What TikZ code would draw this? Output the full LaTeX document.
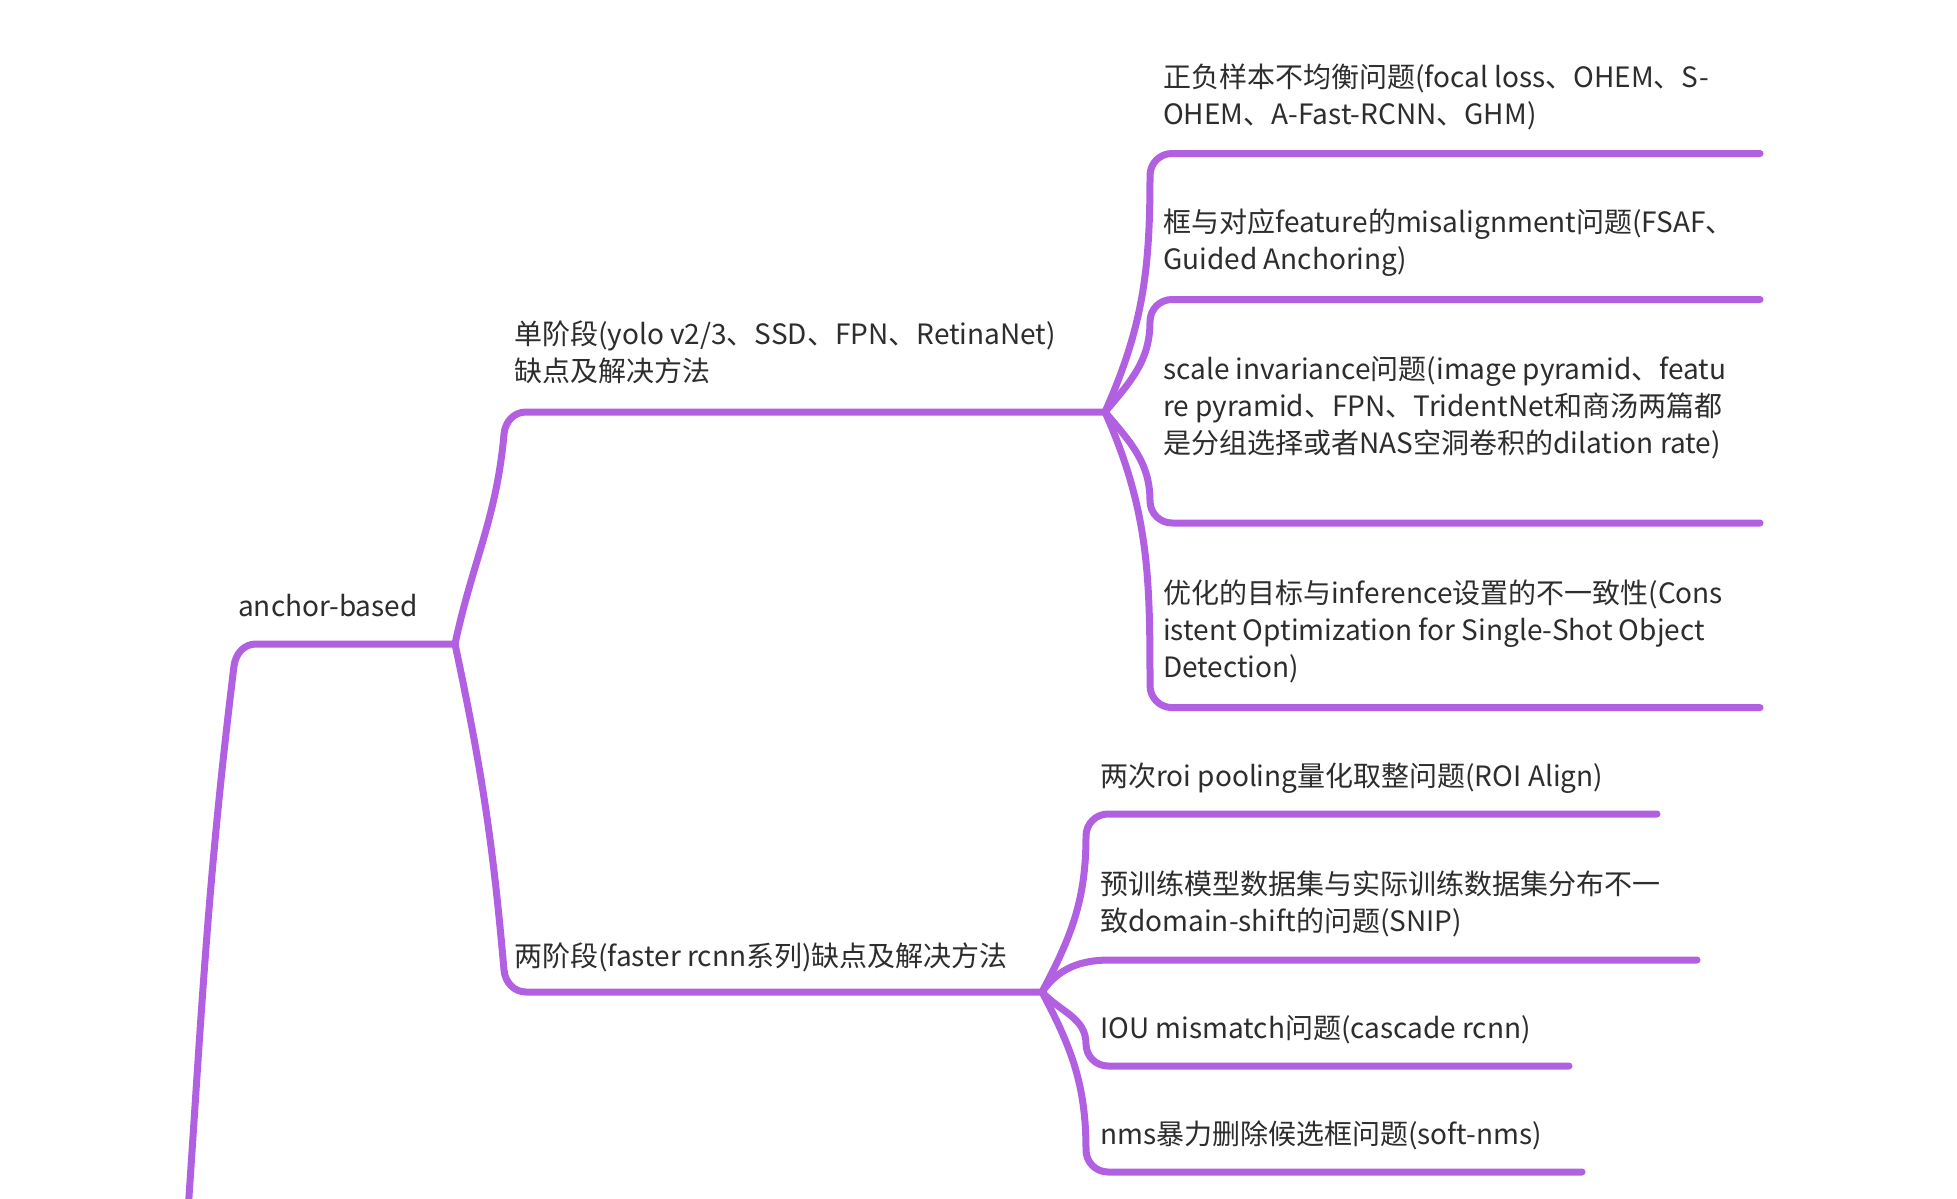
\documentclass[tikz,border=0pt]{standalone}
\usepackage{fontspec}
\setmainfont{Noto Sans CJK SC}
\usetikzlibrary{calc}
\definecolor{mmpurple}{RGB}{178,96,226}
\definecolor{mmtext}{RGB}{45,45,45}
% #1 from, #2 corner, #3 end, #4 V offset, #5 radius, #6 out, #7 in, #8 motion angle
\newcommand\mmbr[8]{\draw[br] (#1) to[out=#6,in=#7] ($(#2)+(0,#4)$) to[out=#8,in=180] ($(#2)+(#5,0)$) -- (#3);}
\begin{document}
\begin{tikzpicture}[x=1pt,y=1pt,
  br/.style={draw=mmpurple, line width=7pt, line cap=round, line join=round},
  lbl/.style={anchor=base west, inner sep=0pt, align=left, text=mmtext,
    font=\fontsize{28}{37.4}\selectfont}]
\useasboundingbox (0,0) rectangle (1957,-1199);
\clip (0,0) rectangle (1957,-1199);
\fill[white] (0,0) rectangle (1957,-1199);

% coordinates
\coordinate (rootb) at (186,-1240);
\coordinate (rc) at (234,-644);
\coordinate (j1) at (455,-644);
\coordinate (css) at (504,-412);
\coordinate (j2) at (1105,-412);
\coordinate (cts) at (504,-992);
\coordinate (j3) at (1042,-992);
\coordinate (s1c) at (1150,-153.5); \coordinate (s1e) at (1760,-153.5);
\coordinate (s2c) at (1150,-299.5); \coordinate (s2e) at (1760,-299.5);
\coordinate (s3c) at (1150,-523);   \coordinate (s3e) at (1760,-523);
\coordinate (s4c) at (1150,-707.6); \coordinate (s4e) at (1760,-707.6);
\coordinate (t1c) at (1086,-814);   \coordinate (t1e) at (1657,-814);
\coordinate (t2c) at (1086,-960);   \coordinate (t2e) at (1697,-960);
\coordinate (t3c) at (1086,-1066);  \coordinate (t3e) at (1569,-1066);
\coordinate (t4c) at (1086,-1172);  \coordinate (t4e) at (1582,-1172);

% connectors
\mmbr{rootb}{rc}{j1}{-22}{22}{86}{-97}{83}
\mmbr{j1}{css}{j2}{-22}{22}{78}{-95}{85}
\mmbr{j1}{cts}{j3}{22}{22}{-78}{95}{-85}
\mmbr{j2}{s1c}{s1e}{-22}{22}{66}{-90}{90}
\mmbr{j2}{s2c}{s2e}{-22}{22}{50}{-90}{90}
\mmbr{j2}{s3c}{s3e}{22}{22}{-50}{90}{-90}
\mmbr{j2}{s4c}{s4e}{22}{22}{-66}{90}{-90}
\mmbr{j3}{t1c}{t1e}{-22}{22}{62}{-90}{90}
\draw[br] (j3) to[out=55,in=180] ($(t2c)+(24,0)$) -- (t2e);
\mmbr{j3}{t3c}{t3e}{22}{22}{-48}{90}{-90}
\mmbr{j3}{t4c}{t4e}{22}{22}{-62}{90}{-90}

% labels (anchor = baseline of the last line)
\node[lbl] (root) at (238,-616) {anchor-based};
\node[lbl] (ss) at (514,-381.4) {单阶段(yolo v2/3、SSD、FPN、RetinaNet)\\缺点及解决方法};
\node[lbl] (ts) at (514,-966) {两阶段(faster rcnn系列)缺点及解决方法};
\node[lbl] (s1) at (1163,-124.4) {正负样本不均衡问题(focal loss、OHEM、S-\\OHEM、A-Fast-RCNN、GHM)};
\node[lbl] (s2) at (1163,-269.4) {框与对应feature的misalignment问题(FSAF、\\Guided Anchoring)};
\node[lbl] (s3) at (1163,-453.8) {scale invariance问题(image pyramid、featu\\re pyramid、FPN、TridentNet和商汤两篇都\\是分组选择或者NAS空洞卷积的dilation rate)};
\node[lbl] (s4) at (1163,-677.8) {优化的目标与inference设置的不一致性(Cons\\istent Optimization for Single-Shot Object\\Detection)};
\node[lbl] (t1) at (1100,-786) {两次roi pooling量化取整问题(ROI Align)};
\node[lbl] (t2) at (1100,-931.4) {预训练模型数据集与实际训练数据集分布不一\\致domain-shift的问题(SNIP)};
\node[lbl] (t3) at (1100,-1038) {IOU mismatch问题(cascade rcnn)};
\node[lbl] (t4) at (1100,-1144) {nms暴力删除候选框问题(soft-nms)};
\end{tikzpicture}
\end{document}
